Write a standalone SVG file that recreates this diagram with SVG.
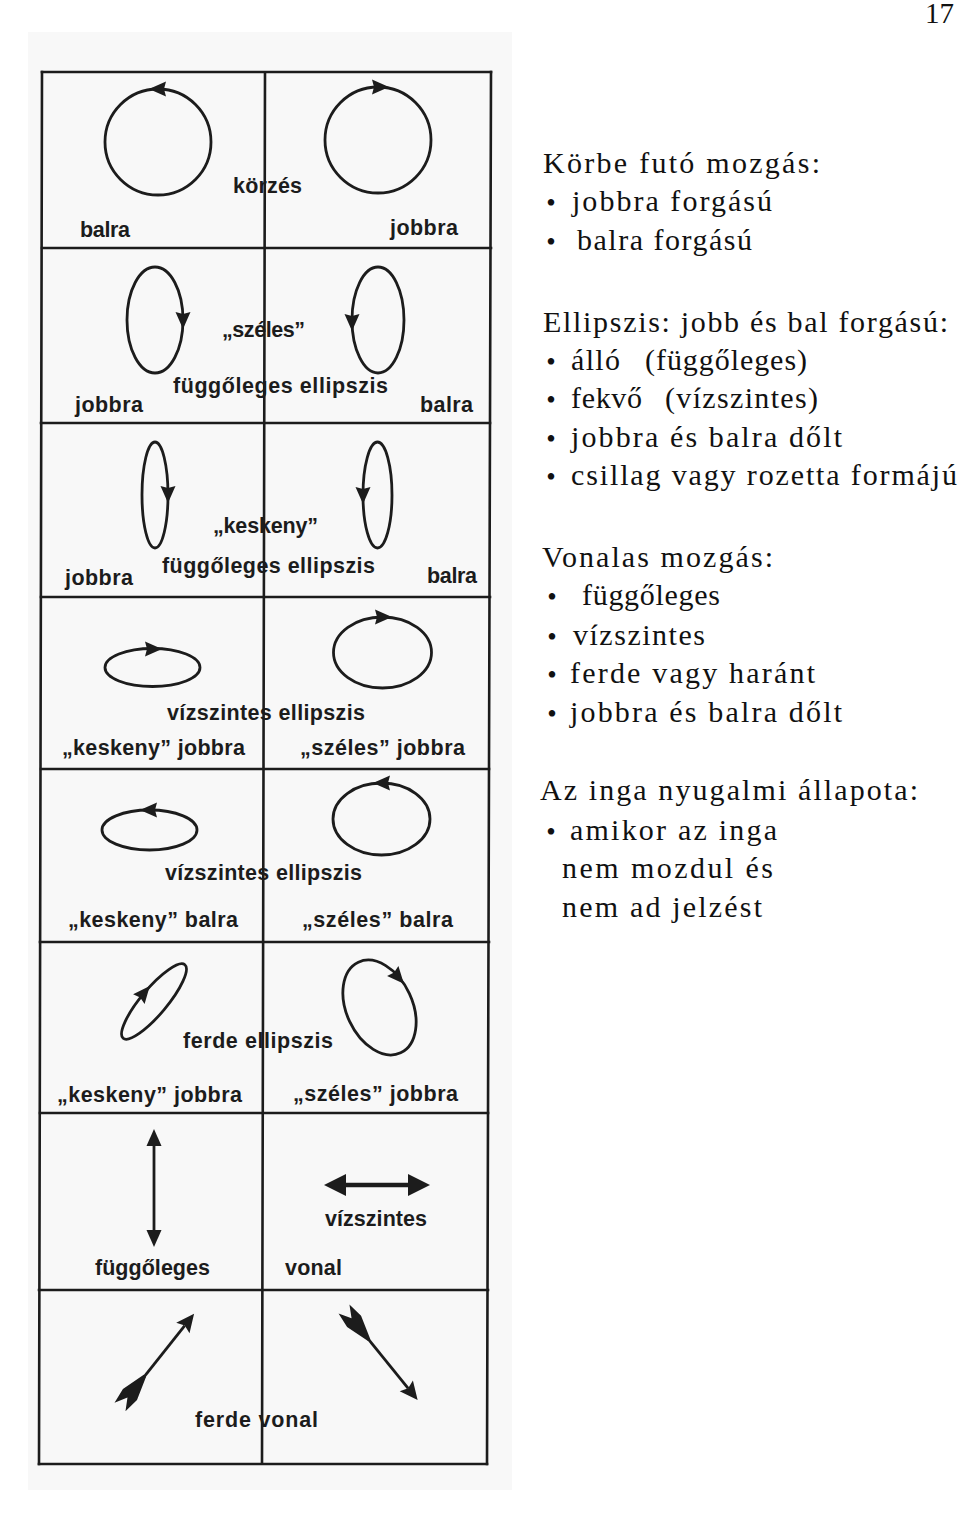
<svg xmlns="http://www.w3.org/2000/svg" xmlns:xlink="http://www.w3.org/1999/xlink" width="960" height="1517" viewBox="0 0 960 1517">
<defs>
<style>
.scan{fill:#f8f8f8}
.grid{stroke:#1c1c1c;stroke-width:2.6;fill:none;stroke-linecap:square}
.curve{stroke:#1c1c1c;stroke-width:2.8;fill:none}
.shaft{stroke:#1c1c1c;stroke-width:2.8;fill:none}
.head{fill:#1c1c1c;stroke:none}
.lbl{font-family:"Liberation Sans",Arial,sans-serif;font-weight:bold;font-size:21.5px;fill:#1c1c1c}
.txt{font-family:"Liberation Serif","Times New Roman",serif;font-size:30px;fill:#111}
.bul{font-family:"Liberation Serif","Times New Roman",serif;font-size:27px;fill:#111}
</style>
<path id="ah" class="head" d="M9,0 L-8,-7.5 L-6,0 L-8,7.5 Z"/>
<path id="fl" class="head" d="M0,-7 L16,-9 L40,-1.5 L40,1.5 L16,9 L0,7 L12,0 Z"/>
</defs>

<rect class="scan" x="28" y="32" width="484" height="1458"/>

<g id="grid">
<path class="grid" d="M42,72 L39,1464 M265,73 L262,1463 M491,72 L487,1464"/>
<path class="grid" d="M42,72 H491 M42,248 H491 M41,423 H490 M41,597 H490 M41,769 H489 M40,942 H489 M40,1113 H488 M39,1290 H488 M39,1464 H487"/>
</g>

<g id="row1-left">
<circle class="curve" cx="158" cy="142" r="53"/>
<use xlink:href="#ah" transform="translate(158,89) rotate(180)"/>
<text class="lbl" x="80" y="237" textLength="50" lengthAdjust="spacing">balra</text>
</g>
<g id="row1-right">
<circle class="curve" cx="378" cy="140" r="53"/>
<use xlink:href="#ah" transform="translate(380,87)"/>
<text class="lbl" x="390" y="235" textLength="68" lengthAdjust="spacing">jobbra</text>
</g>
<text class="lbl" x="233" y="193" textLength="69" lengthAdjust="spacing">körzés</text>

<g id="row2-left">
<ellipse class="curve" cx="155" cy="320" rx="28" ry="53"/>
<use xlink:href="#ah" transform="translate(183,320) rotate(90)"/>
<text class="lbl" x="75" y="412" textLength="68" lengthAdjust="spacing">jobbra</text>
</g>
<g id="row2-right">
<ellipse class="curve" cx="378" cy="320" rx="26" ry="53"/>
<use xlink:href="#ah" transform="translate(352,322) rotate(90)"/>
<text class="lbl" x="420" y="412" textLength="53" lengthAdjust="spacing">balra</text>
</g>
<text class="lbl" x="222" y="337" textLength="83" lengthAdjust="spacing">„széles”</text>
<text class="lbl" x="173" y="393" textLength="215" lengthAdjust="spacing">függőleges ellipszis</text>

<g id="row3-left">
<ellipse class="curve" cx="155" cy="495" rx="13" ry="53"/>
<use xlink:href="#ah" transform="translate(168,494) rotate(90)"/>
<text class="lbl" x="65" y="585" textLength="68" lengthAdjust="spacing">jobbra</text>
</g>
<g id="row3-right">
<ellipse class="curve" cx="377.5" cy="495" rx="14.5" ry="53"/>
<use xlink:href="#ah" transform="translate(363,495) rotate(90)"/>
<text class="lbl" x="427" y="583" textLength="50" lengthAdjust="spacing">balra</text>
</g>
<text class="lbl" x="213" y="533" textLength="105" lengthAdjust="spacing">„keskeny”</text>
<text class="lbl" x="162" y="573" textLength="213" lengthAdjust="spacing">függőleges ellipszis</text>

<g id="row4-left">
<ellipse class="curve" cx="152.5" cy="667.5" rx="47.5" ry="19"/>
<use xlink:href="#ah" transform="translate(153,649)"/>
<text class="lbl" x="62" y="755" textLength="183" lengthAdjust="spacing">„keskeny” jobbra</text>
</g>
<g id="row4-right">
<ellipse class="curve" cx="382.5" cy="652.5" rx="49" ry="35.5"/>
<use xlink:href="#ah" transform="translate(383,617)"/>
<text class="lbl" x="300" y="755" textLength="165" lengthAdjust="spacing">„széles” jobbra</text>
</g>
<text class="lbl" x="167" y="720" textLength="198" lengthAdjust="spacing">vízszintes ellipszis</text>

<g id="row5-left">
<ellipse class="curve" cx="149.5" cy="830" rx="47.5" ry="20"/>
<use xlink:href="#ah" transform="translate(149,810) rotate(180)"/>
<text class="lbl" x="68" y="927" textLength="170" lengthAdjust="spacing">„keskeny” balra</text>
</g>
<g id="row5-right">
<ellipse class="curve" cx="381.5" cy="819" rx="48.5" ry="36"/>
<use xlink:href="#ah" transform="translate(382,783) rotate(180)"/>
<text class="lbl" x="302" y="927" textLength="151" lengthAdjust="spacing">„széles” balra</text>
</g>
<text class="lbl" x="165" y="880" textLength="197" lengthAdjust="spacing">vízszintes ellipszis</text>

<g id="row6-left">
<ellipse class="curve" cx="0" cy="0" rx="48" ry="13" transform="translate(154,1001.5) rotate(-50)"/>
<use xlink:href="#ah" transform="translate(144,993) rotate(-50)"/>
<text class="lbl" x="57" y="1102" textLength="185" lengthAdjust="spacing">„keskeny” jobbra</text>
</g>
<g id="row6-right">
<ellipse class="curve" cx="0" cy="0" rx="50" ry="33" transform="translate(379.5,1007.5) rotate(65)"/>
<use xlink:href="#ah" transform="translate(398,977) rotate(49)"/>
<text class="lbl" x="293" y="1101" textLength="165" lengthAdjust="spacing">„széles” jobbra</text>
</g>
<text class="lbl" x="183" y="1048" textLength="150" lengthAdjust="spacing">ferde ellipszis</text>

<g id="row7-left">
<path class="shaft" d="M154,1140 V1236"/>
<path class="head" d="M154,1129 L146.5,1146 L161.5,1146 Z"/>
<path class="head" d="M154,1247 L146.5,1230 L161.5,1230 Z"/>
<text class="lbl" x="95" y="1275" textLength="115" lengthAdjust="spacing">függőleges</text>
</g>
<g id="row7-right">
<path class="shaft" style="stroke-width:4.5" d="M338,1185 H416"/>
<path class="head" d="M324,1185 L346,1174 L346,1196 Z"/>
<path class="head" d="M430,1185 L408,1174 L408,1196 Z"/>
<text class="lbl" x="325" y="1226" textLength="102" lengthAdjust="spacing">vízszintes</text>
<text class="lbl" x="285" y="1275" textLength="57" lengthAdjust="spacing">vonal</text>
</g>

<g id="row8-left" transform="translate(120,1407) rotate(-51.5)">
<path class="shaft" d="M38,0 H104"/>
<use xlink:href="#fl"/>
<path class="head" d="M119,0 L101,-8.5 L104,0 L101,8.5 Z"/>
</g>
<g id="row8-right" transform="translate(344,1309) rotate(51)">
<path class="shaft" d="M38,0 H102"/>
<use xlink:href="#fl"/>
<path class="head" d="M117,0 L99,-8.5 L102,0 L99,8.5 Z"/>
</g>
<text class="lbl" x="195" y="1427" textLength="123" lengthAdjust="spacing">ferde vonal</text>

<g id="page-text">
<text class="txt" x="925" y="23" style="font-size:29px">17</text>

<text class="txt" x="543" y="173" textLength="277" lengthAdjust="spacing">Körbe futó mozgás:</text>
<text class="bul" x="551" y="212" text-anchor="middle">•</text>
<text class="txt" x="572" y="211" textLength="200" lengthAdjust="spacing">jobbra forgású</text>
<text class="bul" x="551" y="251" text-anchor="middle">•</text>
<text class="txt" x="577" y="250" textLength="175" lengthAdjust="spacing">balra forgású</text>

<text class="txt" x="543" y="332" textLength="405" lengthAdjust="spacing">Ellipszis: jobb és bal forgású:</text>
<text class="bul" x="551" y="371" text-anchor="middle">•</text>
<text class="txt" x="571" y="370" textLength="49" lengthAdjust="spacing">álló</text>
<text class="txt" x="645" y="370" textLength="162" lengthAdjust="spacing">(függőleges)</text>
<text class="bul" x="551" y="409" text-anchor="middle">•</text>
<text class="txt" x="571" y="408" textLength="71" lengthAdjust="spacing">fekvő</text>
<text class="txt" x="665" y="408" textLength="153" lengthAdjust="spacing">(vízszintes)</text>
<text class="bul" x="551" y="448" text-anchor="middle">•</text>
<text class="txt" x="571" y="447" textLength="271" lengthAdjust="spacing">jobbra és balra dőlt</text>
<text class="bul" x="551" y="486" text-anchor="middle">•</text>
<text class="txt" x="571" y="485" textLength="386" lengthAdjust="spacing">csillag vagy rozetta formájú</text>

<text class="txt" x="542" y="567" textLength="231" lengthAdjust="spacing">Vonalas mozgás:</text>
<text class="bul" x="552" y="606" text-anchor="middle">•</text>
<text class="txt" x="582" y="605" textLength="138" lengthAdjust="spacing">függőleges</text>
<text class="bul" x="552" y="646" text-anchor="middle">•</text>
<text class="txt" x="573" y="645" textLength="132" lengthAdjust="spacing">vízszintes</text>
<text class="bul" x="552" y="684" text-anchor="middle">•</text>
<text class="txt" x="570" y="683" textLength="245" lengthAdjust="spacing">ferde vagy haránt</text>
<text class="bul" x="552" y="723" text-anchor="middle">•</text>
<text class="txt" x="570" y="722" textLength="272" lengthAdjust="spacing">jobbra és balra dőlt</text>

<text class="txt" x="540" y="800" textLength="378" lengthAdjust="spacing">Az inga nyugalmi állapota:</text>
<text class="bul" x="551" y="841" text-anchor="middle">•</text>
<text class="txt" x="570" y="840" textLength="207" lengthAdjust="spacing">amikor az inga</text>
<text class="txt" x="562" y="878" textLength="211" lengthAdjust="spacing">nem mozdul és</text>
<text class="txt" x="562" y="917" textLength="200" lengthAdjust="spacing">nem ad jelzést</text>
</g>
</svg>
